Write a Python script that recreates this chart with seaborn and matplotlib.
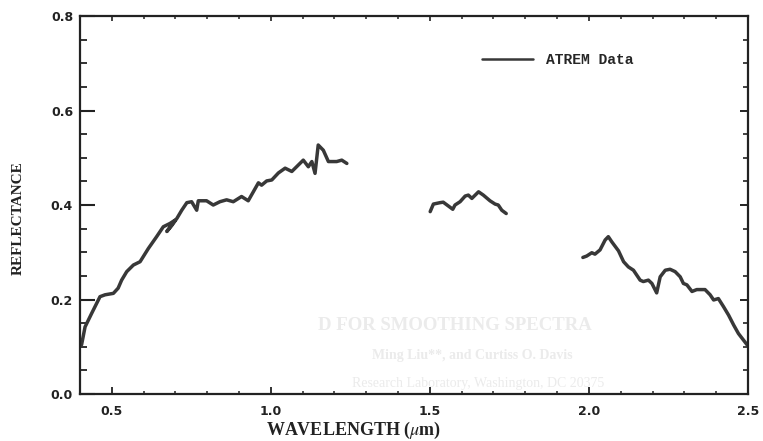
import matplotlib
matplotlib.use("Agg")
import matplotlib.pyplot as plt
from matplotlib.lines import Line2D
from matplotlib.ticker import MultipleLocator
import seaborn as sns
import pandas as pd

# ATREM-retrieved surface reflectance, split where the water-vapour bands are masked
wl_vnir = [0.405, 0.416, 0.437, 0.463, 0.479, 0.505, 0.520, 0.531, 0.547, 0.568,
           0.589, 0.615, 0.641, 0.662, 0.683, 0.699, 0.673, 0.688, 0.705, 0.720,
           0.736, 0.751, 0.767, 0.772, 0.798, 0.819, 0.840, 0.861, 0.882, 0.908,
           0.929, 0.961, 0.971, 0.987, 1.003, 1.024, 1.045, 1.066, 1.081, 1.102,
           1.118, 1.129, 1.139, 1.149, 1.165, 1.181, 1.207, 1.223, 1.239]
refl_vnir = [0.104, 0.142, 0.171, 0.206, 0.210, 0.213, 0.224, 0.241, 0.259, 0.273,
             0.280, 0.308, 0.333, 0.354, 0.361, 0.368, 0.344, 0.356, 0.372, 0.389,
             0.405, 0.407, 0.389, 0.409, 0.409, 0.400, 0.407, 0.411, 0.407, 0.418,
             0.409, 0.447, 0.442, 0.451, 0.453, 0.468, 0.478, 0.471, 0.481, 0.495,
             0.481, 0.492, 0.467, 0.527, 0.516, 0.492, 0.492, 0.495, 0.488]

wl_swir1 = [1.501, 1.511, 1.532, 1.542, 1.558, 1.572, 1.579, 1.595, 1.611, 1.621,
            1.632, 1.653, 1.668, 1.689, 1.705, 1.715, 1.726, 1.740]
refl_swir1 = [0.386, 0.402, 0.405, 0.406, 0.398, 0.391, 0.400, 0.407, 0.419, 0.421,
              0.414, 0.428, 0.421, 0.409, 0.402, 0.400, 0.389, 0.382]

wl_swir2 = [1.981, 1.993, 2.009, 2.019, 2.035, 2.051, 2.061, 2.072, 2.093, 2.109,
            2.124, 2.140, 2.161, 2.171, 2.187, 2.198, 2.213, 2.224, 2.240, 2.255,
            2.271, 2.287, 2.297, 2.308, 2.324, 2.339, 2.365, 2.381, 2.392, 2.407,
            2.423, 2.439, 2.455, 2.470, 2.486, 2.502]
refl_swir2 = [0.289, 0.292, 0.299, 0.296, 0.305, 0.326, 0.333, 0.322, 0.303, 0.280,
              0.269, 0.262, 0.241, 0.238, 0.241, 0.234, 0.214, 0.248, 0.262, 0.264,
              0.259, 0.248, 0.234, 0.231, 0.217, 0.221, 0.221, 0.210, 0.199, 0.202,
              0.185, 0.167, 0.146, 0.128, 0.114, 0.100]

x_ticks = [0.5, 1.0, 1.5, 2.0, 2.5]
x_tick_labels = ["0.5", "1.0", "1.5", "2.0", "2.5"]
y_ticks = [0.0, 0.2, 0.4, 0.6, 0.8]
y_tick_labels = ["0.0", "0.2", "0.4", "0.6", "0.8"]

sns.set_theme(style="white")
plt.rcParams["mathtext.fontset"] = "stix"

fig = plt.figure(figsize=(7.63, 4.41), dpi=100)
ax = fig.add_axes([0.1048, 0.1066, 0.8755, 0.857])

line_color = "#383838"
segments = [(wl_vnir, refl_vnir), (wl_swir1, refl_swir1), (wl_swir2, refl_swir2)]
for wl, refl in segments:
    df = pd.DataFrame({"wavelength": wl, "reflectance": refl})
    sns.lineplot(data=df, x="wavelength", y="reflectance", ax=ax, sort=False,
                 estimator=None, color=line_color, lw=2.5, legend=False,
                 solid_joinstyle="round", solid_capstyle="round")

ax.set_xlim(0.4, 2.5)
ax.set_ylim(0.0, 0.8)

for side in ["left", "right", "top", "bottom"]:
    ax.spines[side].set_visible(True)
    ax.spines[side].set_color("#222222")
    ax.spines[side].set_linewidth(1.6)

tick_font = dict(family="DejaVu Sans", weight="bold", size=9)
ax.set_xticks(x_ticks)
ax.set_xticklabels(x_tick_labels, fontdict=tick_font, color="#222222")
ax.set_yticks(y_ticks)
ax.set_yticklabels(y_tick_labels, fontdict=tick_font, color="#222222")
ax.xaxis.set_minor_locator(MultipleLocator(0.1))
ax.yaxis.set_minor_locator(MultipleLocator(0.05))

ax.tick_params(axis="y", which="major", direction="in", length=11, width=1.5,
               color="#222222", left=True, pad=5)
ax.tick_params(axis="y", which="minor", direction="in", length=5, width=1.3,
               color="#222222", left=True)
ax.tick_params(axis="x", which="major", direction="in", length=5, width=1.3,
               color="#222222", bottom=True, pad=8)
ax.tick_params(axis="x", which="minor", direction="in", length=2.5, width=1.1,
               color="#222222", bottom=True)

# short inward ticks along the right and top frame
right = ax.secondary_yaxis("right")
right.set_yticks(y_ticks)
right.set_yticklabels([])
right.yaxis.set_minor_locator(MultipleLocator(0.05))
right.tick_params(which="major", direction="in", length=6, width=1.4, color="#222222")
right.tick_params(which="minor", direction="in", length=3.5, width=1.2, color="#222222")
right.spines["right"].set_visible(False)

top = ax.secondary_xaxis("top")
top.set_xticks(x_ticks)
top.set_xticklabels([])
top.xaxis.set_minor_locator(MultipleLocator(0.1))
top.tick_params(which="major", direction="in", length=3.5, width=1.2, color="#222222")
top.tick_params(which="minor", direction="in", length=2.5, width=1.1, color="#222222")
top.spines["top"].set_visible(False)

ax.set_xlabel("WAVELENGTH ($\\mu$m)", fontfamily="Liberation Serif",
              fontweight="bold", fontsize=13, color="#222222")
ax.xaxis.set_label_coords(0.41, -0.068)
ax.set_ylabel("REFLECTANCE", fontfamily="Liberation Serif", fontweight="bold",
              fontsize=11, color="#222222")
ax.yaxis.set_label_coords(-0.082, 0.465)

handle = Line2D([], [], color=line_color, lw=1.8)
ax.legend(handles=[handle], labels=["ATREM Data"], frameon=False,
          loc="center right", bbox_to_anchor=(0.848, 0.884),
          handlelength=3.5, handletextpad=0.9,
          prop=dict(family="Liberation Mono", weight="bold", size=10.5))

# faint show-through of the printed page behind the figure
ghost = "#ebebeb"
fig.text(318 / 763, 1 - 326 / 441, "D FOR SMOOTHING SPECTRA", color=ghost,
         fontfamily="Liberation Serif", fontweight="bold", fontsize=13.5,
         va="center", ha="left", zorder=0)
fig.text(372 / 763, 1 - 355 / 441, "Ming Liu**, and Curtiss O. Davis", color=ghost,
         fontfamily="Liberation Serif", fontweight="bold", fontsize=10,
         va="center", ha="left", zorder=0)
fig.text(352 / 763, 1 - 384 / 441, "Research Laboratory, Washington, DC 20375",
         color=ghost, fontfamily="Liberation Serif", fontsize=10,
         va="center", ha="left", zorder=0)

fig.savefig("out.png", dpi=100)
